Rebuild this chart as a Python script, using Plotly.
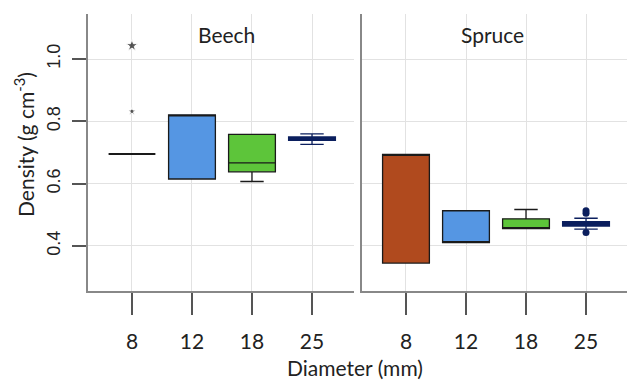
import plotly.graph_objects as go
from plotly.subplots import make_subplots

diameters = ["8", "12", "18", "25"]
species = ["Beech", "Spruce"]
colors = ["#B04A1E", "#5596E3", "#5DC53A", "#0B1F5E"]

# Beech stats per diameter
beech_q1 = [0.695, 0.615, 0.638, 0.739]
beech_med = [0.695, 0.820, 0.667, 0.745]
beech_q3 = [0.695, 0.821, 0.758, 0.750]
beech_lo = [0.695, 0.615, 0.607, 0.726]
beech_hi = [0.695, 0.821, 0.758, 0.760]
beech_out_x = [0, 0]
beech_out_y = [1.043, 0.832]
beech_out_size = [9, 6]

# Spruce stats per diameter
spruce_q1 = [0.345, 0.411, 0.456, 0.464]
spruce_med = [0.694, 0.411, 0.456, 0.471]
spruce_q3 = [0.694, 0.513, 0.487, 0.478]
spruce_lo = [0.345, 0.411, 0.456, 0.454]
spruce_hi = [0.694, 0.513, 0.517, 0.489]
spruce_out_x = [3, 3, 3]
spruce_out_y = [0.513, 0.505, 0.443]

W, H = 627, 381
ml, mr, mt, mb = 88, 0, 14, 90
pw = W - ml - mr
ph = H - mt - mb
FONT = "Lato"

fig = make_subplots(rows=1, cols=2, shared_yaxes=False)

def add_boxes(col, q1, med, q3, lo, hi):
    for i in range(4):
        flat = q3[i] <= q1[i]
        fig.add_trace(go.Box(
            x=[i], q1=[q1[i]], median=[med[i]], q3=[q3[i]],
            lowerfence=[lo[i]], upperfence=[hi[i]],
            boxpoints=False, width=0.78, whiskerwidth=0.5,
            fillcolor="rgba(0,0,0,0)" if flat else colors[i],
            line=dict(color="#0B1F5E" if i == 3 else "#1a1a1a", width=2 if flat else 1.3),
            showlegend=False, hoverinfo="skip"), row=1, col=col)

add_boxes(1, beech_q1, beech_med, beech_q3, beech_lo, beech_hi)
add_boxes(2, spruce_q1, spruce_med, spruce_q3, spruce_lo, spruce_hi)

fig.add_trace(go.Scatter(x=beech_out_x, y=beech_out_y, mode="markers",
                         marker=dict(symbol="star", size=beech_out_size, color="#111"),
                         showlegend=False, hoverinfo="skip"), row=1, col=1)
fig.add_trace(go.Scatter(x=spruce_out_x, y=spruce_out_y, mode="markers",
                         marker=dict(symbol="circle", size=7, color="#0B1F5E"),
                         showlegend=False, hoverinfo="skip"), row=1, col=2)

d1 = (354 - ml) / pw
d2 = (362 - ml) / pw
axis_common = dict(showgrid=True, gridcolor="#e2e2e2", gridwidth=1,
                   showline=True, linecolor="#888", linewidth=1.5,
                   zeroline=False)
xcommon = dict(axis_common, tickmode="array", tickvals=[0, 1, 2, 3], ticktext=diameters,
               ticks="outside", ticklen=22, tickwidth=1.5, tickcolor="#555",
               ticklabelstandoff=9,
               tickfont=dict(family=FONT, size=21, color="#222"))
fig.update_layout(
    width=W, height=H, margin=dict(l=ml, r=mr, t=mt, b=mb),
    paper_bgcolor="white", plot_bgcolor="white",
    xaxis=dict(xcommon, domain=[0, d1], range=[-0.733, 3.70]),
    xaxis2=dict(xcommon, domain=[d2, 1], range=[-0.733, 3.683]),
    yaxis=dict(axis_common, range=[0.2555, 1.1445], tickvals=[0.4, 0.6, 0.8, 1.0],
               ticktext=["0.4", "0.6", "0.8", "1.0"], tickangle=-90,
               ticks="outside", ticklen=14, tickwidth=1.5, tickcolor="#555",
               ticklabelstandoff=5,
               tickfont=dict(family="Liberation Sans", size=18, color="#222")),
    yaxis2=dict(axis_common, range=[0.2555, 1.1445], tickvals=[0.4, 0.6, 0.8, 1.0],
                showticklabels=False, ticks=""),
)

def ann(text, px, py, angle=0):
    fig.add_annotation(text=text, x=(px - ml) / pw, y=1 - (py - mt) / ph,
                       xref="paper", yref="paper", showarrow=False,
                       xanchor="center", yanchor="middle", textangle=angle,
                       font=dict(family=FONT, size=21, color="#222"))

ann(species[0], 226, 35)
ann(species[1], 492, 35)
ann("Diameter (mm)", 355, 367)
ann("Density (g cm<sup>-3</sup>)", 24, 145, -90)

fig.write_html("out.html")
